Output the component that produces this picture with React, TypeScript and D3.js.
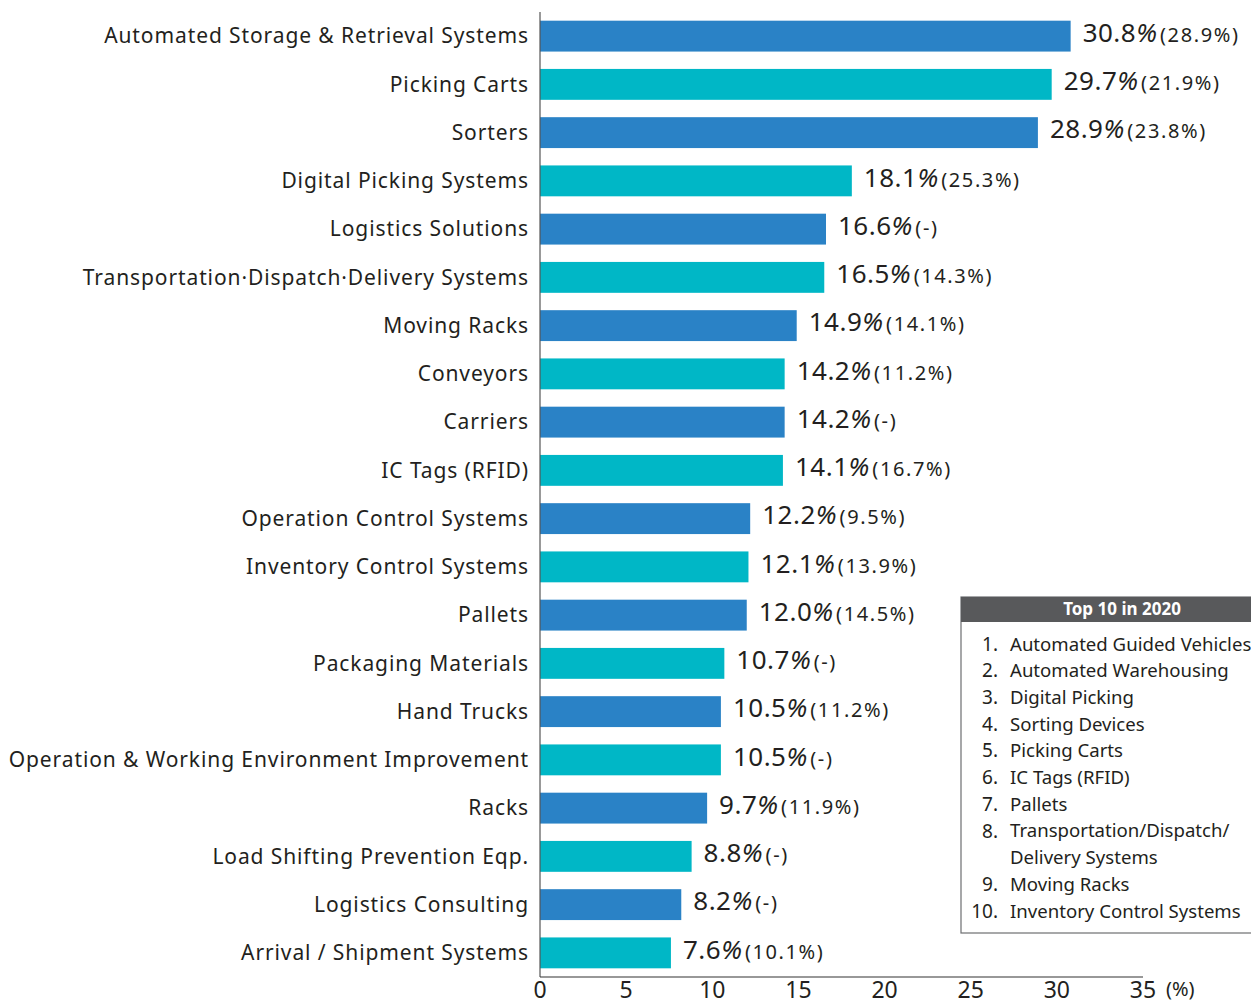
import React, { useEffect, useRef } from 'react';
import * as d3 from 'd3';

const categories = [
  'Automated Storage & Retrieval Systems',
  'Picking Carts',
  'Sorters',
  'Digital Picking Systems',
  'Logistics Solutions',
  'Transportation·Dispatch·Delivery Systems',
  'Moving Racks',
  'Conveyors',
  'Carriers',
  'IC Tags (RFID)',
  'Operation Control Systems',
  'Inventory Control Systems',
  'Pallets',
  'Packaging Materials',
  'Hand Trucks',
  'Operation & Working Environment Improvement',
  'Racks',
  'Load Shifting Prevention Eqp.',
  'Logistics Consulting',
  'Arrival / Shipment Systems',
];
const values = [30.8, 29.7, 28.9, 18.1, 16.6, 16.5, 14.9, 14.2, 14.2, 14.1, 12.2, 12.1, 12.0, 10.7, 10.5, 10.5, 9.7, 8.8, 8.2, 7.6];
const previous = ['28.9%', '21.9%', '23.8%', '25.3%', '-', '14.3%', '14.1%', '11.2%', '-', '16.7%', '9.5%', '13.9%', '14.5%', '-', '11.2%', '-', '11.9%', '-', '-', '10.1%'];
const ticks = [0, 5, 10, 15, 20, 25, 30, 35];
const top10Title = 'Top 10 in 2020';
const top10 = [
  ['1.', 'Automated Guided Vehicles'],
  ['2.', 'Automated Warehousing'],
  ['3.', 'Digital Picking'],
  ['4.', 'Sorting Devices'],
  ['5.', 'Picking Carts'],
  ['6.', 'IC Tags (RFID)'],
  ['7.', 'Pallets'],
  ['8.', 'Transportation/Dispatch/'],
  ['', 'Delivery Systems'],
  ['9.', 'Moving Racks'],
  ['10.', 'Inventory Control Systems'],
];

const FONT = '"Noto Sans", sans-serif';
const colors = ['#2a82c6', '#00b7c6'];

const App = () => {
  const ref = useRef(null);

  useEffect(() => {
    const W = 1251, H = 1005;
    d3.select(ref.current).selectAll('*').remove();
    const svg = d3.select(ref.current)
      .append('svg')
      .attr('width', W)
      .attr('height', H)
      .style('display', 'block')
      .style('font-family', FONT);

    const x = d3.scaleLinear().domain([0, 35]).range([540, 1143]);
    const y = d3.scaleBand().domain(categories).range([12, 977]).paddingInner(0.36).paddingOuter(0.18);

    svg.selectAll('rect.bar')
      .data(values)
      .enter()
      .append('rect')
      .attr('class', 'bar')
      .attr('x', x(0))
      .attr('y', (d, i) => y(categories[i]))
      .attr('width', d => x(d) - x(0))
      .attr('height', y.bandwidth())
      .attr('fill', (d, i) => colors[i % 2]);

    // category labels
    svg.selectAll('text.cat')
      .data(categories)
      .enter()
      .append('text')
      .attr('class', 'cat')
      .attr('x', 529)
      .attr('y', d => y(d) + y.bandwidth() / 2)
      .attr('dy', '0.35em')
      .attr('text-anchor', 'end')
      .style('font-size', '21px')
      .style('letter-spacing', '0.9px')
      .style('fill', '#231f20')
      .text(d => d);

    // value labels
    const vl = svg.selectAll('text.val')
      .data(values)
      .enter()
      .append('text')
      .attr('class', 'val')
      .attr('x', d => x(d) + 12)
      .attr('y', (d, i) => y(categories[i]) + y.bandwidth() / 2)
      .attr('dy', '0.36em')
      .style('fill', '#231f20');
    vl.append('tspan').style('font-size', '26px').style('letter-spacing', '0.5px').text(d => d.toFixed(1));
    vl.append('tspan').style('font-size', '26px').style('font-style', 'italic').text('%');
    vl.append('tspan').attr('dx', 3).style('font-size', '20px').style('letter-spacing', '1.6px')
      .text((d, i) => '(' + previous[i] + ')');

    // axes
    svg.append('line')
      .attr('x1', x(0)).attr('x2', x(0))
      .attr('y1', 12).attr('y2', 977)
      .attr('stroke', '#555').attr('stroke-width', 1.2);
    svg.append('line')
      .attr('x1', x(0)).attr('x2', x(35))
      .attr('y1', 977).attr('y2', 977)
      .attr('stroke', '#333').attr('stroke-width', 1.2);
    svg.selectAll('text.tick')
      .data(ticks)
      .enter()
      .append('text')
      .attr('class', 'tick')
      .attr('x', d => x(d))
      .attr('y', 998)
      .attr('text-anchor', 'middle')
      .style('font-size', '23px')
      .style('fill', '#231f20')
      .text(d => d);
    svg.append('text')
      .attr('x', 1166)
      .attr('y', 996)
      .style('font-size', '20px')
      .style('fill', '#231f20')
      .text('(%)');

    // Top 10 box
    const bx = 961, by = 597, bw = 300, bh = 336;
    svg.append('rect')
      .attr('x', bx).attr('y', by).attr('width', bw).attr('height', bh)
      .attr('fill', '#fff').attr('stroke', '#6d6e71').attr('stroke-width', 1.2);
    svg.append('rect')
      .attr('x', bx).attr('y', by).attr('width', bw).attr('height', 25)
      .attr('fill', '#58595b');
    svg.append('text')
      .attr('x', 1122).attr('y', by + 12.5).attr('dy', '0.35em')
      .attr('text-anchor', 'middle')
      .style('font-size', '17px').style('font-weight', 'bold').style('fill', '#fff')
      .text(top10Title);
    const row = svg.selectAll('g.item')
      .data(top10)
      .enter()
      .append('g')
      .attr('class', 'item')
      .attr('transform', (d, i) => `translate(0, ${644 + i * 26.7})`);
    row.append('text')
      .attr('x', 998).attr('dy', '0.35em').attr('text-anchor', 'end')
      .style('font-size', '19px').style('fill', '#231f20')
      .text(d => d[0]);
    row.append('text')
      .attr('x', 1010).attr('dy', '0.35em')
      .style('font-size', '18.6px').style('fill', '#231f20')
      .text(d => d[1]);
  }, []);

  return <div ref={ref} style={{ position: 'absolute', left: 0, top: 0, width: 1251, height: 1005, overflow: 'hidden' }}></div>;
};

export default App;
